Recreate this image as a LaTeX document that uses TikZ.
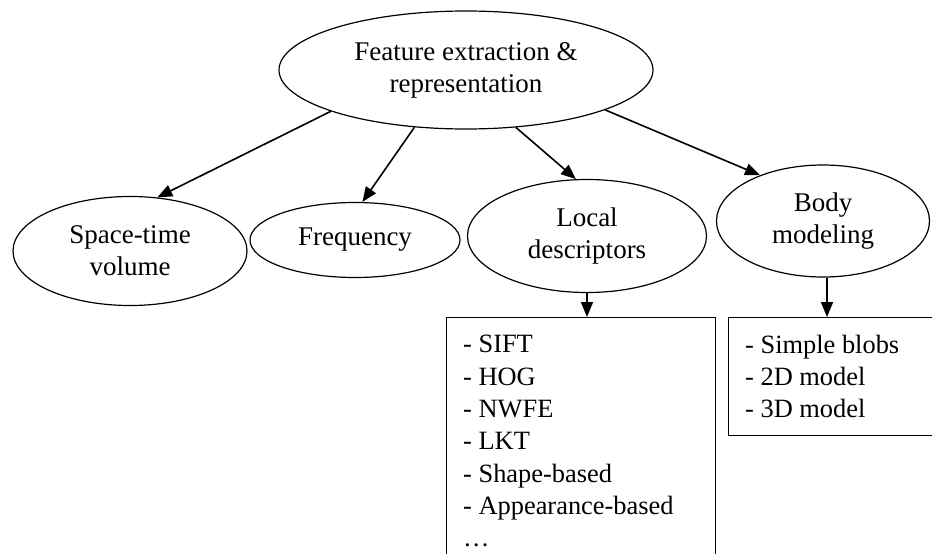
\documentclass[tikz,border=0pt]{standalone}
\usepackage{fontspec}
\setmainfont{Liberation Serif}
\usetikzlibrary{shapes.geometric,arrows.meta}

\tikzset{
  oval/.style={ellipse, draw, line width=1.2pt, inner sep=0pt, align=center,
               font=\fontsize{27}{32}\selectfont},
  listbox/.style={rectangle, draw, line width=1.3pt, inner sep=0pt},
  listtext/.style={anchor=north west, inner sep=0pt, align=left,
                   font=\fontsize{26.4}{32.3}\selectfont},
  link/.style={line width=1.6pt, -{Triangle[length=15pt,width=12pt]}}
}

\begin{document}
\begin{tikzpicture}[x=1pt,y=-1pt]
  \useasboundingbox (0,0) rectangle (932,554);
  \clip (0,0) rectangle (932,554);

  % root and the four feature families
  \node[oval, minimum width=374pt, minimum height=118pt] (top) at (466,70)
       {Feature extraction \&\\representation};
  \node[oval, minimum width=234pt, minimum height=109pt] (stv) at (130,251)
       {Space-time\\volume};
  \node[oval, minimum width=210pt, minimum height=75pt] (freq) at (355,240)
       {Frequency};
  \node[oval, minimum width=239pt, minimum height=113pt] (local) at (587,236)
       {Local\\descriptors};
  \node[oval, minimum width=213pt, minimum height=112pt] (body) at (823,221)
       {Body\\modeling};

  % detail boxes (they run past the page edge)
  \node[listbox, anchor=north west, minimum width=269pt, minimum height=300pt]
       (lbox) at (446,317) {};
  \node[listbox, anchor=north west, minimum width=250pt, minimum height=118pt]
       (rbox) at (728,317) {};

  \node[listtext] (ltext) at (463,335.3)
       {- SIFT\\- HOG\\- NWFE\\- LKT\\- Shape-based\\- Appearance-based\\\dots};
  \node[listtext] (rtext) at (745,334.7)
       {- Simple blobs\\- 2D model\\- 3D model};

  % connectors
  \draw[link] (top.197) -- (stv.63);
  \draw[link] (top.228) -- (freq.79);
  \draw[link] (top.311) -- (local.101);
  \draw[link] (top.344) -- (body.144);
  \draw[link] (local.south) -- (local.south |- lbox.north);
  \draw[link] ([xshift=4pt]body.south) -- ([xshift=4pt]body.south |- rbox.north);
\end{tikzpicture}
\end{document}
